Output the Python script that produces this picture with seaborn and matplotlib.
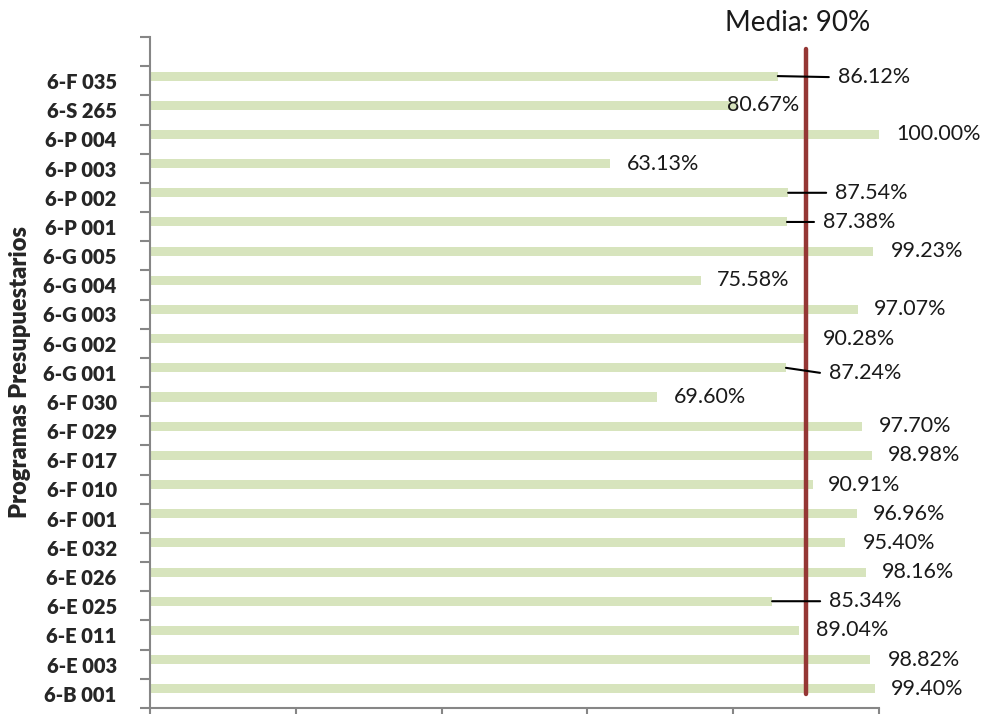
import matplotlib
matplotlib.use("Agg")
import matplotlib.pyplot as plt
import seaborn as sns
import numpy as np
import pandas as pd

categories = ["6-F 035", "6-S 265", "6-P 004", "6-P 003", "6-P 002", "6-P 001",
              "6-G 005", "6-G 004", "6-G 003", "6-G 002", "6-G 001", "6-F 030",
              "6-F 029", "6-F 017", "6-F 010", "6-F 001", "6-E 032", "6-E 026",
              "6-E 025", "6-E 011", "6-E 003", "6-B 001"]
values = [86.12, 80.67, 100.00, 63.13, 87.54, 87.38, 99.23, 75.58, 97.07, 90.28,
          87.24, 69.60, 97.70, 98.98, 90.91, 96.96, 95.40, 98.16, 85.34, 89.04,
          98.82, 99.40]
media = 90
x_ticks = [0, 20, 40, 60, 80, 100]

# label placement (pixel offsets from bar end) and leader lines
label_dx = [60, -11, 17, 17, 47, 36, 17, 16, 16, 15, 43, 16, 17, 16, 15, 16, 17, 16, 57, 17, 17, 16]
label_dy = [-1, 0, 0, 0, 0, 0, 0, 0, 0, 0, -5, 0, 0, 0, 0, 0, 0, 0, 0, 0, 0, 0]
leader = [True, False, False, False, True, True, False, False, False, False, True,
          False, False, False, False, False, False, False, True, False, False, False]

sns.set_theme(style="white")
plt.rcParams['font.family'] = ['Lato', 'DejaVu Sans']

fig = plt.figure(figsize=(9.83, 7.14), dpi=100)
ax = fig.add_axes([150/983, 1 - 708/714, 729/983, (708 - 37)/714])

df = pd.DataFrame({"cat": categories, "val": values})
sns.barplot(data=df, y="cat", x="val", color="#D7E4BD", saturation=1,
            width=0.31, orient="h", ax=ax, edgecolor="none")

n = len(categories)
off = 0.34
ax.set_xlim(0, 100)
ax.set_ylim(n - off, -1 - off)

ax.set_xticks(x_ticks)
ax.set_xticklabels([])
ax.set_yticks([k - off for k in range(-1, n + 1)])
ax.set_yticklabels([])
ax.set_yticks([i + 0.17 for i in range(n)], minor=True)
ax.set_yticklabels(categories, minor=True, fontsize=14.5, fontweight="heavy")
ax.tick_params(axis="y", which="minor", length=0, pad=24)
ax.tick_params(axis="y", which="major", length=7, width=1.5, color="#868686", left=True, direction="out")
ax.tick_params(axis="x", which="major", length=7, width=1.5, color="#868686", bottom=True, direction="out")
ax.set_xlabel("")
ax.set_ylabel("Programas Presupuestarios", fontsize=17, fontweight="heavy")
ax.yaxis.set_label_coords(-0.163, 0.5)

for s in ["top", "right"]:
    ax.spines[s].set_visible(False)
for s in ["left", "bottom"]:
    ax.spines[s].set_color("#868686")
    ax.spines[s].set_linewidth(1.5)

ax.plot([media, media], [-0.92, 21.17], color="#953735", lw=3.2, solid_capstyle="round", zorder=3)
ax.annotate(f"Media: {media}%", xy=(media, -1 - off), xycoords="data",
            xytext=(-8, 14), textcoords="offset pixels", ha="center", va="center",
            fontsize=20, color="#1a1a1a", annotation_clip=False)

for i, v in enumerate(values):
    ax.annotate(f"{v:.2f}%", xy=(v, i), xytext=(label_dx[i], label_dy[i]),
                textcoords="offset pixels", ha="left", va="center",
                fontsize=15.5, color="#1a1a1a", zorder=4, annotation_clip=False)
    if leader[i]:
        ax.annotate("", xy=(v, i), xytext=(label_dx[i] - 9, label_dy[i]),
                    textcoords="offset pixels",
                    arrowprops=dict(arrowstyle="-", color="black", lw=1.5,
                                    shrinkA=0, shrinkB=0), zorder=4)

fig.savefig("out.png", dpi=100)
